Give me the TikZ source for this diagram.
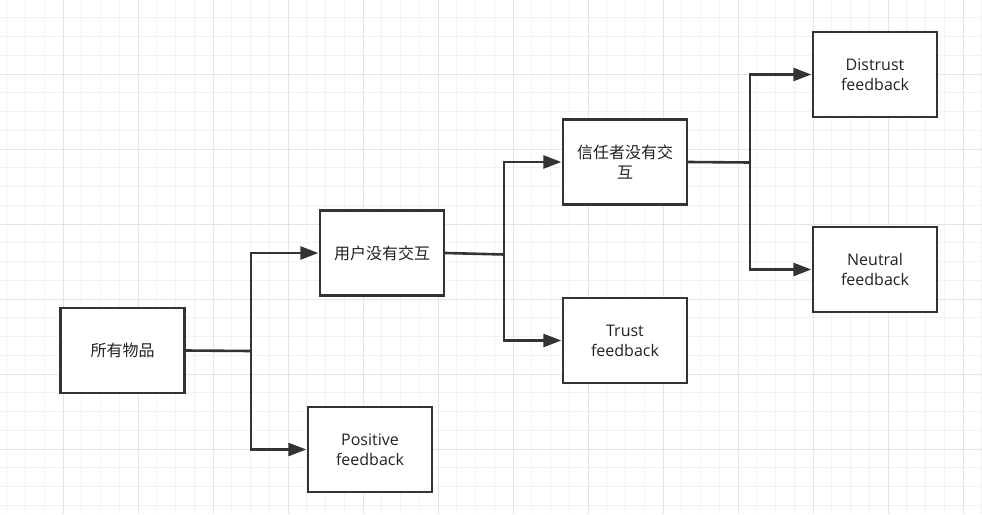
\documentclass[tikz,border=0pt]{standalone}
\usepackage{fontspec}
\setmainfont{Open Sans}
\newfontfamily\cjk{Noto Sans CJK SC}
\usetikzlibrary{arrows.meta}
\definecolor{lineclr}{HTML}{333333}
\definecolor{txtclr}{HTML}{222222}
\definecolor{gridminor}{HTML}{F2F2F2}
\definecolor{gridmajor}{HTML}{E4E4E4}
\tikzset{
  boxnode/.style={draw=lineclr, line width=2.3pt, fill=white, rectangle,
    minimum width=124pt, minimum height=85pt, align=center,
    font=\fontsize{16}{20}\selectfont, text=txtclr, inner sep=2pt},
  conn/.style={draw=lineclr, line width=2.6pt},
  arr/.style={conn, -{Triangle[length=18pt,width=13pt]}, shorten >=0.5pt},
  gminor/.style={draw=gridminor, line width=1pt},
  gmajor/.style={draw=gridmajor, line width=1pt}
}
\begin{document}
\begin{tikzpicture}[x=1pt,y=-1pt]
\useasboundingbox (0,0) rectangle (982,514);
\fill[white] (0,0) rectangle (982,514);
% grid
\foreach \i in {1,...,53} {\draw[gminor] ({-12+18.75*\i},0) -- ({-12+18.75*\i},514);}
\foreach \j in {1,...,28} {\draw[gminor] (0,{-1+18.75*\j}) -- (982,{-1+18.75*\j});}
\foreach \i in {1,...,13} {\draw[gmajor] ({-12+75*\i},0) -- ({-12+75*\i},514);}
\foreach \j in {1,...,6} {\draw[gmajor] (0,{-1+75*\j}) -- (982,{-1+75*\j});}
% nodes
\node[boxnode] (all) at (122.5,350.5) {\cjk 所有物品};
\node[boxnode] (user) at (382,253) {\cjk 用户没有交互};
\node[boxnode] (pos) at (370,449.5) {Positive\\feedback};
\node[boxnode] (trustor) at (625,162) {\cjk 信任者没有交\\\cjk 互};
\node[boxnode] (trust) at (625,340.5) {Trust\\feedback};
\node[boxnode] (distrust) at (875,74.5) {Distrust\\feedback};
\node[boxnode] (neutral) at (875,269.5) {Neutral\\feedback};
% junctions
\coordinate (j1) at (251,351);
\coordinate (j2) at (504,254.5);
\coordinate (j3) at (750,162.5);
% connectors
\draw[conn] (all.east) -- (j1);
\draw[arr] (j1) |- (user.west);
\draw[arr] (j1) |- (pos.west);
\draw[conn] (user.east) -- (j2);
\draw[arr] (j2) |- (trustor.west);
\draw[arr] (j2) |- (trust.west);
\draw[conn] (trustor.east) -- (j3);
\draw[arr] (j3) |- (distrust.west);
\draw[arr] (j3) |- (neutral.west);
\end{tikzpicture}
\end{document}
